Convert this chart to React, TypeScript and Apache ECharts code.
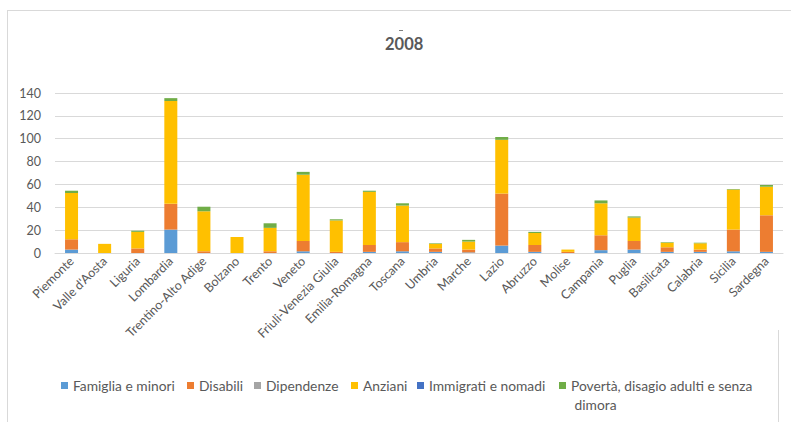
import React, { useEffect, useRef } from "react";
import * as echarts from "echarts";

const categories = [
  "Piemonte", "Valle d'Aosta", "Liguria", "Lombardia", "Trentino-Alto Adige", "Bolzano", "Trento",
  "Veneto", "Friuli-Venezia Giulia", "Emilia-Romagna", "Toscana", "Umbria", "Marche", "Lazio",
  "Abruzzo", "Molise", "Campania", "Puglia", "Basilicata", "Calabria", "Sicilia", "Sardegna",
];
const famiglia = [3, 0, 0, 20.5, 0, 0, 0, 1.5, 0, 1, 1.5, 1, 0.5, 6.5, 1, 0, 2.5, 3, 1, 1, 1.5, 1];
const disabili = [9, 0, 4, 22.5, 1.5, 0, 1.5, 9, 1, 6, 8, 3, 2.5, 45.5, 6, 1, 13, 7.5, 4, 2, 19, 32];
const dipendenze = [0, 0, 0, 0, 0, 0, 0, 0, 0, 0, 0, 0, 0, 0, 0, 0, 0, 0, 0, 0, 0, 0];
const anziani = [40.5, 8, 14.5, 90, 35, 14, 20.5, 58, 27.5, 46.5, 32, 4, 7, 47, 10.5, 2, 28, 20.5, 4, 5.5, 35, 25];
const immigrati = [0, 0, 0, 0, 0, 0, 0, 0, 0, 0, 0, 0, 0, 0, 0, 0, 0, 0, 0, 0, 0, 0];
const poverta = [2, 0, 1, 2.5, 4, 0, 4, 2.5, 1, 1, 2, 0.5, 1.5, 2.5, 1, 0, 2.5, 1, 0.5, 0.5, 0.5, 1.5];

const seriesNames = [
  "Famiglia e minori",
  "Disabili",
  "Dipendenze",
  "Anziani",
  "Immigrati e nomadi",
  "Povertà, disagio adulti e senza dimora",
];
const seriesData = [famiglia, disabili, dipendenze, anziani, immigrati, poverta];
const colors = ["#5B9BD5", "#ED7D31", "#A5A5A5", "#FFC000", "#4472C4", "#70AD47"];

const FONT = "Lato";
const TEXT = "#595959";
const legendLefts = [61, 187, 254, 351, 417, 559];

export default function App() {
  const ref = useRef<HTMLDivElement>(null);
  useEffect(() => {
    document.body.style.margin = "0";
    const chart = echarts.init(ref.current!, null, { renderer: "svg" });
    chart.setOption({
      animation: false,
      backgroundColor: "#ffffff",
      color: colors,
      textStyle: { fontFamily: FONT },
      title: {
        text: "2008",
        left: 385,
        top: 35,
        padding: 0,
        textStyle: { fontFamily: FONT, fontSize: 16.5, fontWeight: "bold", color: TEXT },
      },
      graphic: [
        { type: "line", shape: { x1: 7.5, y1: 10, x2: 7.5, y2: 422 }, style: { stroke: "#d9d9d9", lineWidth: 1 } },
        { type: "line", shape: { x1: 7, y1: 10.5, x2: 791, y2: 10.5 }, style: { stroke: "#d9d9d9", lineWidth: 1 } },
        { type: "line", shape: { x1: 778.5, y1: 330, x2: 778.5, y2: 422 }, style: { stroke: "#d9d9d9", lineWidth: 1 } },
        { type: "line", shape: { x1: 399, y1: 30.5, x2: 403, y2: 30.5 }, style: { stroke: "#7f7f7f", lineWidth: 1 } },
      ],
      grid: { left: 55, right: 8, top: 93, bottom: 169, containLabel: false },
      legend: seriesNames.map((n, i) => ({
        left: legendLefts[i],
        top: i === 5 ? 357 : 376,
        padding: 0,
        itemWidth: 7,
        itemHeight: 7,
        icon: "rect",
        textStyle: { fontFamily: FONT, fontSize: 13.8, color: TEXT, lineHeight: 19 },
        data: [{ name: n }],
        formatter: (name: string) =>
          name === seriesNames[5] ? "\nPovertà, disagio adulti e senza\n dimora" : name,
      })),
      xAxis: {
        type: "category",
        data: categories,
        axisTick: { show: false },
        axisLine: { lineStyle: { color: "#d9d9d9", width: 1 } },
        axisLabel: { rotate: 45, margin: 6, interval: 0, fontFamily: FONT, fontSize: 12.5, color: TEXT },
      },
      yAxis: {
        type: "value",
        min: 0,
        max: 140,
        interval: 20,
        axisLine: { show: false },
        axisTick: { show: false },
        splitLine: { lineStyle: { color: "#d9d9d9", width: 1 } },
        axisLabel: { margin: 14, fontFamily: FONT, fontSize: 12.5, color: TEXT },
      },
      series: seriesNames.map((n, i) => ({
        name: n,
        type: "bar",
        stack: "total",
        barWidth: 13,
        data: seriesData[i],
        itemStyle: { color: colors[i] },
      })),
    });
    return () => chart.dispose();
  }, []);
  return <div ref={ref} style={{ width: 791, height: 422 }} />;
}
